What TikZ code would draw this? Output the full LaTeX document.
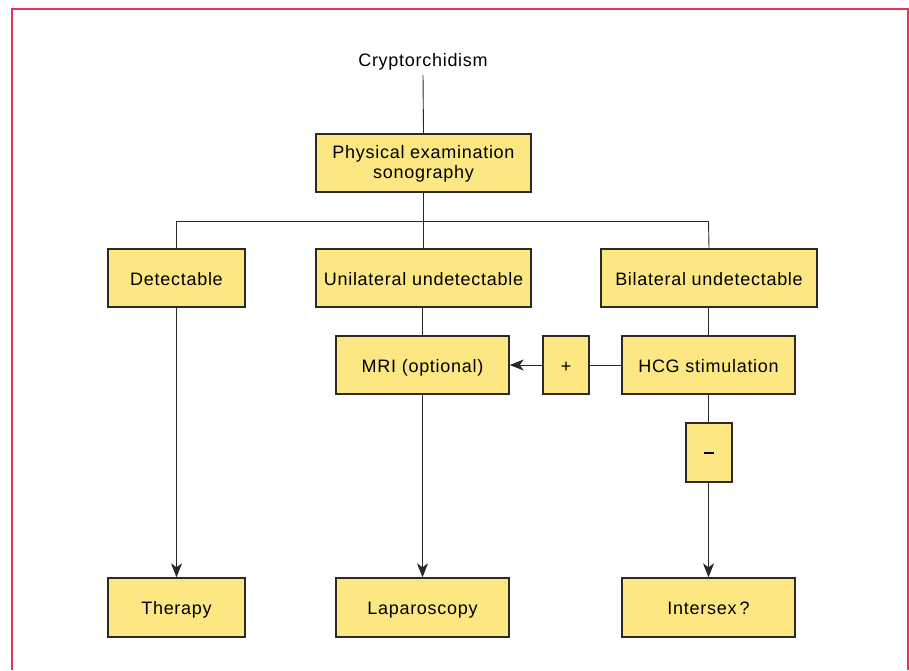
\documentclass[tikz,border=0pt]{standalone}
\usepackage{fontspec}
\setmainfont{Liberation Sans}[LetterSpace=4]
\usetikzlibrary{arrows.meta}
\definecolor{boxfill}{RGB}{253,231,130}
\definecolor{boxline}{RGB}{45,42,38}
\definecolor{conn}{RGB}{40,40,40}
\definecolor{frame}{RGB}{226,52,92}
\tikzset{
  yb/.style={draw=boxline, fill=boxfill, line width=1.4pt, inner sep=0pt,
    font=\fontsize{18}{20}\selectfont, text=black, align=center,
    text height=15pt, text depth=1pt},
  cn/.style={draw=conn, line width=0.9pt},
  ar/.style={cn, -{Stealth[length=14pt,width=11pt,inset=4pt]}},
}
\begin{document}
\begin{tikzpicture}[x=1pt,y=-1pt]
\useasboundingbox (0,0) rectangle (909,670);
\draw[frame, line width=1.5pt] (12,670) -- (12,9) -- (908,9) -- (908,670);

\node[font=\fontsize{18}{21}\selectfont, text=black, inner sep=0pt, minimum height=26pt] (crypt) at (423,62) {Cryptorchidism};

\node[yb, minimum width=215pt, minimum height=58pt, text height=30pt, text depth=0pt] (phys) at (423.5,163) {Physical examination\\sonography};

\node[yb, minimum width=137pt, minimum height=58pt] (det) at (176.5,278) {Detectable};
\node[yb, minimum width=215pt, minimum height=58pt] (uni) at (423.5,278) {Unilateral undetectable};
\node[yb, minimum width=216pt, minimum height=58pt] (bil) at (709,278) {Bilateral undetectable};

\node[yb, minimum width=173pt, minimum height=58pt] (mri) at (422.5,365) {MRI (optional)};
\node[yb, minimum width=46pt, minimum height=58pt] (plus) at (566,365) {+};
\node[yb, minimum width=46pt, minimum height=59pt] (minus) at (709,452.5) {\rule[5.5pt]{10pt}{2pt}};
\node[yb, minimum width=173pt, minimum height=58pt] (hcg) at (708.5,365) {HCG stimulation};

\node[yb, minimum width=137pt, minimum height=59pt] (ther) at (176.5,607.5) {Therapy};
\node[yb, minimum width=173pt, minimum height=59pt] (lap) at (422.5,607.5) {Laparoscopy};
\node[yb, minimum width=173pt, minimum height=59pt] (inter) at (708.5,607.5) {Intersex\,?};

\coordinate (busL) at (176.5,221);
\coordinate (busR) at (708.5,221);

\draw[cn] (crypt.south) -- (phys.north);
\draw[cn] (phys.south) -- (phys.south |- busL);
\draw[cn] (busL) -- (busR);
\draw[cn] (busL) -- (det.north);
\draw[cn] (uni.north) -- (uni.north |- busL);
\draw[cn] (busR) -- (bil.north);

\draw[ar] (det.south) -- (ther.north);
\draw[cn] (uni.south -| mri.north) -- (mri.north);
\draw[ar] (mri.south) -- (lap.north);
\draw[cn] (bil.south -| hcg.north) -- (hcg.north);
\draw[cn] (hcg.west) -- (plus.east);
\draw[ar] (plus.west) -- (mri.east);
\draw[cn] (hcg.south) -- (hcg.south |- minus.north);
\draw[ar] (inter.north |- minus.south) -- (inter.north);
\end{tikzpicture}
\end{document}
